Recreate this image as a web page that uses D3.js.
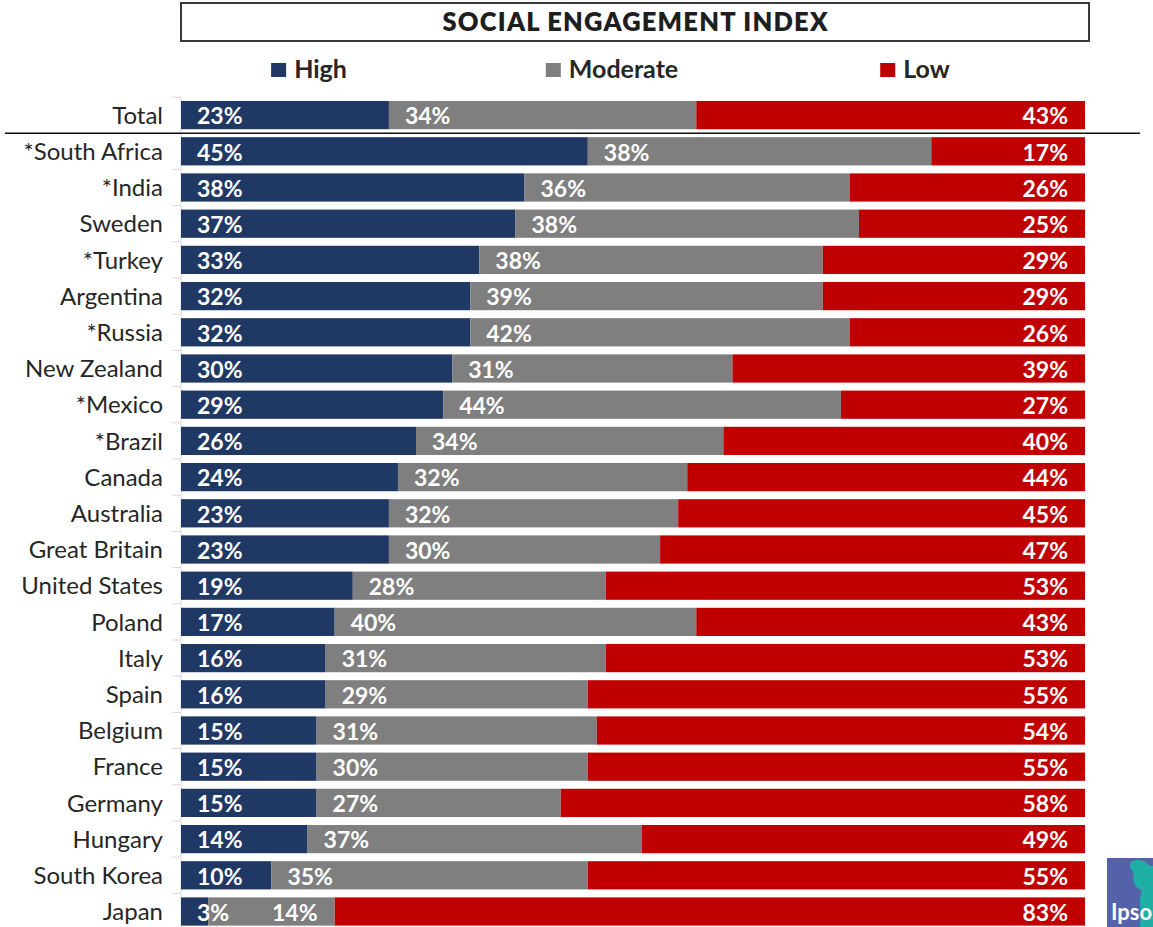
<!DOCTYPE html>
<html>
<head>
<meta charset="utf-8">
<script src="https://cdn.jsdelivr.net/npm/d3@7"></script>
<style>
  html, body { margin: 0; padding: 0; background: #fff; }
  svg { display: block; }
</style>
</head>
<body>
<svg id="chart" width="1153" height="927"></svg>
<script>
const title = "SOCIAL ENGAGEMENT INDEX";
const seriesNames = ["High", "Moderate", "Low"];
const countries = ["Total", "*South Africa", "*India", "Sweden", "*Turkey", "Argentina", "*Russia",
  "New Zealand", "*Mexico", "*Brazil", "Canada", "Australia", "Great Britain", "United States",
  "Poland", "Italy", "Spain", "Belgium", "France", "Germany", "Hungary", "South Korea", "Japan"];
const high     = [23, 45, 38, 37, 33, 32, 32, 30, 29, 26, 24, 23, 23, 19, 17, 16, 16, 15, 15, 15, 14, 10, 3];
const moderate = [34, 38, 36, 38, 38, 39, 42, 31, 44, 34, 32, 32, 30, 28, 40, 31, 29, 31, 30, 27, 37, 35, 14];
const low      = [43, 17, 26, 25, 29, 29, 26, 39, 27, 40, 44, 45, 47, 53, 43, 53, 55, 54, 55, 58, 49, 55, 83];
const colors = ["#1F3864", "#7F7F7F", "#C00000"];

const rows = countries.map((c, i) => ({ country: c, High: high[i], Moderate: moderate[i], Low: low[i] }));
const stacked = d3.stack().keys(seriesNames)(rows);

const svg = d3.select("#chart");
const FONT = "Lato, 'Open Sans', sans-serif";

const x = d3.scaleLinear().domain([0, 100]).range([181, 1085]);
const y = d3.scaleBand().domain(countries).range([97, 929.6]).paddingInner(0.22).paddingOuter(0.11);
const color = d3.scaleOrdinal().domain(seriesNames).range(colors);

// Title box
svg.append("rect").attr("x", 181).attr("y", 3).attr("width", 908).attr("height", 38)
  .attr("fill", "#fff").attr("stroke", "#3a3a3a").attr("stroke-width", 2);
const tt = svg.append("text").attr("x", 635).attr("y", 22).attr("dy", "0.36em")
  .attr("text-anchor", "middle").attr("font-family", FONT).attr("font-weight", 800)
  .attr("font-size", 25.5).attr("fill", "#1e1e1e").text(title);
{
  const tw = tt.node().getComputedTextLength();
  const ls = Math.max(0, (385 - tw) / (title.length - 1));
  tt.attr("letter-spacing", ls).attr("x", 635 + ls / 2);
}

// Legend
const lx = d3.scalePoint().domain(seriesNames).range([309, 915]);
const leg = svg.append("g").selectAll("g").data(seriesNames).join("g");
leg.each(function(d) {
  const g = d3.select(this);
  const t = g.append("text").attr("x", 0).attr("y", 69).attr("dy", "0.36em")
    .attr("font-family", FONT).attr("font-weight", 700).attr("font-size", 25)
    .attr("fill", "#262626").text(d);
  const tw = t.node().getComputedTextLength();
  const total = 15 + 8 + tw;
  const start = lx(d) - total / 2;
  g.append("rect").attr("x", start).attr("y", 63).attr("width", 15).attr("height", 14).attr("fill", color(d));
  t.attr("x", start + 23);
});

// Axis line & ticks at band boundaries
const step = y.step();
const gap = step * y.paddingInner();
svg.append("line").attr("x1", x(0)).attr("x2", x(0)).attr("y1", y.range()[0]).attr("y2", 927)
  .attr("stroke", "#d9d9d9").attr("stroke-width", 1);
const bounds = countries.map(c => y(c) - gap / 2);
svg.append("g").selectAll("line").data(bounds).join("line")
  .attr("x1", x(0) - 9).attr("x2", x(0)).attr("y1", d => d).attr("y2", d => d)
  .attr("stroke", "#d9d9d9").attr("stroke-width", 1);

// Bars
const layers = svg.append("g").selectAll("g").data(stacked).join("g").attr("fill", d => color(d.key));
layers.selectAll("rect").data(d => d).join("rect")
  .attr("x", d => x(d[0])).attr("width", d => x(d[1]) - x(d[0]))
  .attr("y", d => y(d.data.country)).attr("height", y.bandwidth());

// Value labels
const lab = svg.append("g").attr("font-family", FONT).attr("font-weight", 700)
  .attr("font-size", 23).attr("fill", "#fff");
const labelX = (key, d) => {
  if (key === "Low") return x(d[1]) - 17;
  if (key === "Moderate") return Math.max(x(d[0]) + 16, x(0) + 91);
  return x(d[0]) + 16;
};
stacked.forEach(layer => {
  lab.append("g").selectAll("text").data(layer).join("text")
    .attr("x", d => labelX(layer.key, d))
    .attr("text-anchor", layer.key === "Low" ? "end" : "start")
    .attr("y", d => y(d.data.country) + y.bandwidth() / 2 + 1)
    .attr("dy", "0.36em")
    .text(d => (d[1] - d[0]) + "%");
});

// Category axis labels
const axis = d3.axisLeft(y).tickSize(0).tickPadding(18);
const ag = svg.append("g").attr("transform", `translate(${x(0)},0)`).call(axis);
ag.select(".domain").remove();
ag.selectAll("text").attr("font-family", FONT).attr("font-size", 24).attr("fill", "#262626").attr("dy", "0.36em");

// Separator under Total
const sepY = y(countries[1]) - gap / 2;
svg.append("line").attr("x1", 5).attr("x2", 1140).attr("y1", sepY).attr("y2", sepY)
  .attr("stroke", "#111").attr("stroke-width", 1.5);

// Ipsos logo (partial, cut by the page edge as in the original)
const logo = svg.append("g");
logo.append("rect").attr("x", 1107).attr("y", 858).attr("width", 46).attr("height", 69).attr("fill", "#5462AC");
logo.append("path").attr("d", "M1131,862 C1136,858 1146,860 1150,866 L1153,866 L1153,927 L1140,927 C1142,912 1138,900 1142,890 C1134,888 1132,880 1134,872 C1130,870 1129,866 1131,862 Z")
  .attr("fill", "#1FAFA5");
logo.append("text").attr("x", 1111).attr("y", 920).attr("font-family", FONT).attr("font-weight", 700)
  .attr("font-size", 22).attr("fill", "#fff").text("Ipsos");
</script>
</body>
</html>
